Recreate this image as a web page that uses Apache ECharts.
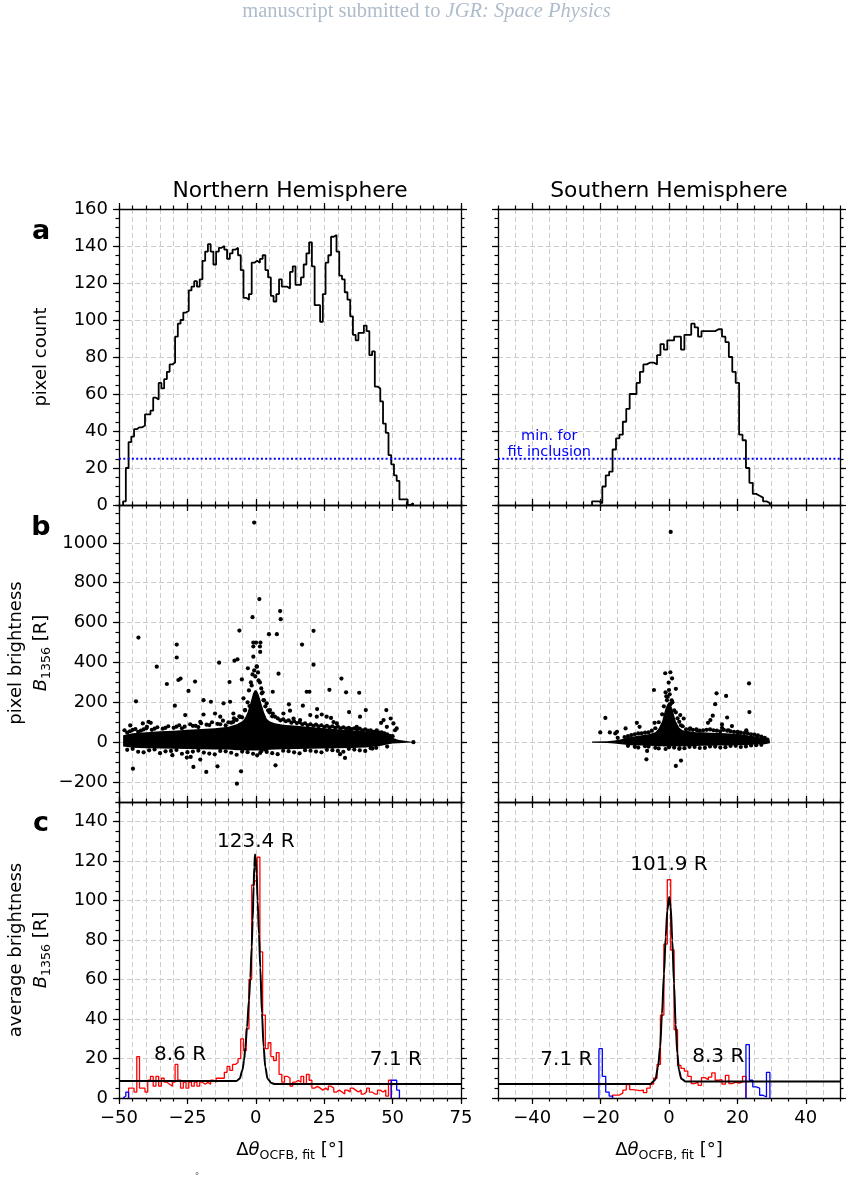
<!DOCTYPE html>
<html><head><meta charset="utf-8">
<script src="https://cdn.jsdelivr.net/npm/echarts@6/dist/echarts.min.js"></script>
<style>html,body{margin:0;padding:0;background:#fff;}#c{width:853px;height:1181px;}</style>
</head><body><div id="c"></div>
<script>
// ---------------- DATA ----------------
const thresholdCount = 25;

// panel a: pixel count histograms (bin centres, 1 deg wide)
const countN_bins = [-48,-47,-46,-45,-44,-43,-42,-41,-40,-39,-38,-37,-36,-35,-34,-33,-32,-31,-30,-29,-28,-27,-26,-25,-24,-23,-22,-21,-20,-19,-18,-17,-16,-15,-14,-13,-12,-11,-10,-9,-8,-7,-6,-5,-4,-3,-2,-1,0,1,2,3,4,5,6,7,8,9,10,11,12,13,14,15,16,17,18,19,20,21,22,23,24,25,26,27,28,29,30,31,32,33,34,35,36,37,38,39,40,41,42,43,44,45,46,47,48,49,50,51,52,53,54,55,56,57];
const countN = [2,20,34,37,41,42,42,43,49,49,51,58,57,66,63,68,72,76,77,91,98,100,104,105,116,118,121,118,122,132,137,141,137,130,137,139,140,138,133,136,138,139,135,127,112,111,114,131,132,131,133,135,127,123,113,110,114,122,118,118,117,126,129,119,119,123,130,136,142,129,108,108,99,114,131,135,145,146,137,124,122,115,111,102,92,89,93,93,97,94,81,83,64,63,56,44,39,27,22,16,13,3,3,3,0,1];
const countS_bins = [-22,-21,-20,-19,-18,-17,-16,-15,-14,-13,-12,-11,-10,-9,-8,-7,-6,-5,-4,-3,-2,-1,0,1,2,3,4,5,6,7,8,9,10,11,12,13,14,15,16,17,18,19,20,21,22,23,24,25,26,27,28,29];
const countS = [2,2,1,10,16,18,30,36,38,45,52,60,60,66,72,76,77,77,76,81,87,84,89,89,91,91,84,92,92,98,96,91,94,94,94,94,95,95,91,88,80,72,66,38,35,20,12,6,5,4,2,1];

// panel c: average brightness per bin (red = used in fit, blue = excluded)
const avgN_red_bins = [-46,-45,-44,-43,-42,-41,-40,-39,-38,-37,-36,-35,-34,-33,-32,-31,-30,-29,-28,-27,-26,-25,-24,-23,-22,-21,-20,-19,-18,-17,-16,-15,-14,-13,-12,-11,-10,-9,-8,-7,-6,-5,-4,-3,-2,-1,0,1,2,3,4,5,6,7,8,9,10,11,12,13,14,15,16,17,18,19,20,21,22,23,24,25,26,27,28,29,30,31,32,33,34,35,36,37,38,39,40,41,42,43,44,45,46,47,48,49];
const avgN_red = [5,5,3,21,5,5,3,9,11,6,11,6,10,8,7,6,8,17,9,5,8,5,8,6,8,6,8,7,8,7,9,8,10,10,10,13,16,14,17,18,20,30,24,35,60,108,110,122,74,42,25,28,21,19,23,12,8,11,10,6,8,9,8,11,7,12,9,5,6,5,4,5,4,6,5,3,4,3,2,4,3,5,4,3,4,2,3,5,3,2,2,4,3,4,1,9];
const avgN_blueL_bins = [-48,-47];
const avgN_blueL = [1,3];
const avgN_blueR_bins = [50,51,52];
const avgN_blueR = [9,9,4];

const avgS_red_bins = [-16,-15,-14,-13,-12,-11,-10,-9,-8,-7,-6,-5,-4,-3,-2,-1,0,1,2,3,4,5,6,7,8,9,10,11,12,13,14,15,16,17,18,19,20,21,22];
const avgS_red = [1.5,1.5,2.5,4,6.8,4.2,4,3.7,4,2.7,5,7,10,17,42,78,110.6,75,34.6,16.5,15,13.6,11,7.3,8,6.4,10.3,9.3,10.6,12.7,9,9.3,7,11.5,7.3,8,7.6,8,11];
const avgS_blueL_bins = [-20,-19,-18,-17];
const avgS_blueL = [25,11,3,1];
const avgS_blueR_bins = [23,24,25,26,27,28,29];
const avgS_blueR = [27,9,5.6,5,1.4,0.5,13];

// fitted curves, points
const fitN_x = [-50,-7.1,-5.9,-4.9,-4.3,-3.8,-3.2,-2.5,-2.0,-1.5,-1.15,-0.8,-0.55,-0.3,-0.05,0.3,0.67,1.16,1.64,2.25,2.86,3.47,4.3,5.7,6.9,75];
const fitN_y = [8.6,8.6,9.8,14,19,25.8,36,49.5,61,76.5,90,107,117,123.4,122,113.7,100,83,66,43,26,15.7,9.8,7.6,7.1,7.1];
const fitS_x = [-50,-5.5,-4.0,-3.2,-2.6,-2.05,-1.46,-0.97,-0.49,0.05,0.49,0.97,1.46,1.95,2.44,2.92,3.6,4.8,6,50];
const fitS_y = [7.1,7.1,9.3,15.7,25.8,42.7,63,81.6,95,101.9,96.8,80,58,37.3,22.5,14,9.8,8.4,8.3,8.3];
const fitLabelsN = ['123.4 R','8.6 R','7.1 R'];
const fitLabelsS = ['101.9 R','7.1 R','8.3 R'];

// panel b: dense core envelope of the pixel cloud
const bandN_x  = [-48.5,-45,-40,-35,-30,-25,-20,-15,-10,-7,-5,-4,-3,-2,-1.5,-1,-0.5,0,0.5,1,1.5,2,3,4,5,7,10,15,20,25,30,35,40,45,48,50,52,55,57.5];
const bandN_hi = [35,45,50,55,58,62,66,70,78,90,105,120,150,195,220,245,258,262,255,240,220,195,150,118,105,95,88,82,76,70,65,60,55,46,36,22,12,6,1];
const bandN_lo = [-22,-28,-30,-32,-33,-34,-35,-36,-37,-40,-40,-42,-42,-42,-42,-42,-42,-42,-42,-42,-42,-42,-42,-40,-38,-36,-35,-34,-33,-32,-30,-29,-27,-20,-12,-7,-5,-3,-1];
const bandS_x  = [-22.5,-18,-16,-14,-12,-10,-8,-6,-4,-3,-2,-1.5,-1,-0.5,0,0.5,1,1.5,2,3,4,6,8,10,12,15,18,20,22,24,26,28,29.5];
const bandS_hi = [3,5,8,15,24,30,35,40,50,70,105,140,170,190,200,190,165,135,105,72,60,55,50,50,48,46,44,42,38,32,26,18,8];
const bandS_lo = [-3,-4,-6,-10,-14,-16,-17,-18,-19,-20,-20,-22,-22,-22,-22,-22,-22,-22,-22,-20,-20,-20,-19,-18,-18,-17,-16,-15,-15,-13,-12,-10,-5];

// panel b: individual pixels outside the dense core
const pixN = [[-42.9,525],[-44.9,-133],[-43.8,205],[-45.9,84],[-36.2,379],[-32.5,292],[-28.9,490],[-28.9,425],[-28.3,312],[-27.5,319],[-29.6,183],[-30.5,-65],[-24.6,257],[-22.2,304],[-22.8,-124],[-25.2,-77],[-23.8,-74],[-20.3,-87],[-18.1,-149],[-19.1,211],[-16.4,203],[-19.1,139],[-14,-121],[-13.4,399],[-11.8,195],[-9.6,302],[-9.4,203],[-7.8,409],[-6.7,416],[-6,560],[-5.1,315],[-6.9,-208],[-5.4,-146],[-4.5,220],[-2.9,371],[-1.2,627],[-0.6,1102],[-0.9,500],[0.1,500],[1.3,718],[1.7,500],[1.5,480],[1.6,453],[-0.9,429],[-0.9,480],[0.4,379],[4.8,542],[7.7,542],[8.9,658],[9.1,617],[8.3,344],[6.2,253],[7.2,-116],[1.6,-54],[3.4,-37],[16.9,490],[21.1,559],[21.1,389],[18.6,253],[19.6,253],[26.9,263],[31.3,319],[33,250],[37.8,248],[34.1,151],[40.2,161],[47.7,161],[49.3,119],[30.8,-60],[32.6,-79],[42.6,-32],[27.5,122],[12.1,190],[17.2,183],[12.5,158],[22.4,166],[24.1,139],[28.4,101],[38.1,128],[44.2,60],[45.8,97],[50.3,94],[50.9,60],[51.5,69],[57.6,0],[-41.3,94],[-39.2,102],[-38.4,97],[-39.8,77],[-25.8,136],[-20.3,102],[-14.9,144],[-13,128],[-8.2,144],[-5.7,127],[-3.9,161],[-8.2,102],[-2.3,181],[2.2,245],[2.8,211],[4,195],[5.2,161],[6.2,144],[10.1,144],[13.8,119],[16.2,111],[19.9,136],[22.3,128],[25.9,128],[29.6,94],[34.5,60],[36.9,77],[40.6,44],[46.7,111],[47.9,77],
 [-48,60],[-46,55],[-44,66],[-42,58],[-40,70],[-38,62],[-36,75],[-34,68],[-32,80],[-30,72],[-28,85],[-26,78],[-24,90],[-22,82],[-20,95],[-18,88],[-16,100],[-14,92],[-12,108],[-10,100],[-8,120],[-6,130],[-4,160],[-3,200],[-2.5,260],[-1.8,300],[-1.2,340],[-0.6,360],[0.3,380],[0.8,350],[1.5,300],[2.5,250],[3.5,180],[5,150],[6,130],[8,120],[10,115],[12,110],[14,105],[16,100],[18,95],[20,90],[22,88],[24,85],[26,82],[28,80],[30,78],[32,75],[34,72],[36,70],[38,68],[40,65],[42,60],[44,55],[46,50],[48,40],[50,30],
 [-47,48],[-45,62],[-43,52],[-41,64],[-37,68],[-33,72],[-29,78],[-27,70],[-23,82],[-21,76],[-17,86],[-13,90],[-11,84],[-9,98],[-7,112],[-5,125],[-1.5,285],[-0.2,330],[1,310],[2,270],[3,210],[4.5,160],[7,128],[9,110],[11,105],[13,98],[15,96],[17,90],[19,85],[21,82],[23,80],[25,76],[27,74],[29,72],[31,70],[33,68],[35,66],[37,62],[39,60],[41,58],[43,52],[45,48],[47,44],[49,32],
 [-47,-38],[-43,-48],[-39,-41],[-35,-55],[-31,-44],[-27,-58],[-23,-47],[-19,-52],[-15,-61],[-11,-46],[-7,-63],[-3,-50],[0.5,-66],[4,-49],[8,-60],[12,-45],[16,-56],[20,-43],[24,-51],[28,-40],[32,-48],[36,-37],[40,-44],[44,-28],[48,-22],
 [-45,-33],[-41,-51],[-37,-36],[-33,-46],[-29,-39],[-25,-50],[-21,-42],[-17,-57],[-13,-44],[-9,-53],[-5,-47],[-1,-58],[2,-45],[6,-55],[10,-43],[14,-51],[18,-40],[22,-47],[26,-38],[30,-44],[34,-33],[38,-41],[42,-30]];
const pixS = [[0.5,1055],[-1.1,346],[0.4,351],[0.9,320],[-0.1,299],[2,268],[-4.4,262],[0,262],[-0.4,228],[-0.6,211],[0.4,191],[3.3,136],[4.3,119],[3,102],[-18.6,122],[-20.1,49],[-17.3,49],[-15.7,44],[-15.2,52],[-12.7,69],[-9.4,97],[-8.6,77],[-4.2,97],[-6.4,-44],[-6.6,-86],[3.5,-92],[2,-119],[3.1,-29],[13.9,245],[16.7,232],[13.5,191],[17,124],[12.8,133],[12.1,111],[11.4,97],[15.5,89],[17.4,60],[18.4,81],[20.1,52],[23.4,295],[23.5,151],[22.6,60],[25.7,22],[27.5,17],[28.8,13],[15.5,72],[8.2,60],[6.2,69],
 [-15,22],[-12,30],[-10,40],[-8,45],[-6,50],[-5,58],[-4,70],[-3,100],[-2,140],[-1.5,180],[-0.8,230],[0.8,210],[1.5,160],[2.5,120],[3.5,85],[5,65],[7,62],[9,58],[11,62],[13,60],[15,55],[17,58],[19,52],[21,48],[23,45],[25,38],[27,28],
 [-13,26],[-11,36],[-9,44],[-7,48],[-1,250],[0.2,240],[1,200],[2,150],[4,80],[6,66],[8,64],[10,60],[12,64],[14,58],[16,62],[18,55],[20,50],[22,46],[24,40],[26,34],[28,22],
 [-12,-18],[-9,-27],[-6,-22],[-3,-31],[0,-25],[3,-33],[6,-23],[9,-29],[12,-21],[15,-27],[18,-19],[21,-24],[24,-16],[27,-13],
 [-10,-23],[-7,-20],[-4,-28],[-1,-34],[1.5,-27],[4.5,-30],[7.5,-24],[10.5,-28],[13.5,-22],[16.5,-25],[19.5,-18],[22.5,-21],[25.5,-15]];

// axes
const xTicksN = [-50,-25,0,25,50,75];
const xTicksS = [-40,-20,0,20,40];
const yTicksA = [0,20,40,60,80,100,120,140,160];
const yTicksB = [-200,0,200,400,600,800,1000];
const yTicksC = [0,20,40,60,80,100,120,140];

// ---------------- CHART ----------------
const F = 'DejaVu Sans';
const chart = echarts.init(document.getElementById('c'), null, {renderer:'canvas'});
const G = [
  {left:119, top:209, width:342, height:296},
  {left:498, top:209, width:342, height:296},
  {left:119, top:505, width:342, height:297},
  {left:498, top:505, width:342, height:297},
  {left:119, top:802, width:342, height:296},
  {left:498, top:802, width:342, height:296}
];
const option = {animation:false, backgroundColor:'#fff', grid:G.map(g=>Object.assign({show:false}, g)), xAxis:[], yAxis:[], series:[], graphic:[]};
const fmt = v => v < 0 ? '\u2212' + Math.abs(v) : String(v);
const spine = {show:true, onZero:false, lineStyle:{color:'#000', width:1.3}};
const tick = len => ({show:true, inside:false, length:len, lineStyle:{color:'#000', width:1.2}});
const gridLine = {show:true, lineStyle:{type:[5,3], color:'#cccccc', width:1}};
function base(gi, r){ return {type:'value', gridIndex:gi, min:r.min, max:r.max, axisLine:{show:false, onZero:false}, axisTick:{show:false}, axisLabel:{show:false}, splitLine:{show:false}}; }
const mainIdx = [];
function addAxes(gi, xr, yr, showX, showY){
  const xi = option.xAxis.length, yi = option.yAxis.length;
  const lab = (show) => ({show:show, formatter:fmt, fontSize:18, fontFamily:F, color:'#000', margin:11});
  option.xAxis.push(Object.assign(base(gi,xr), {position:'bottom', axisLine:spine, axisTick:Object.assign(tick(6),{customValues:xr.major}), axisLabel:Object.assign(lab(showX),{customValues:xr.major})}));
  option.xAxis.push(Object.assign(base(gi,xr), {position:'bottom', interval:xr.minor, axisTick:tick(3.5), splitLine:gridLine}));
  option.xAxis.push(Object.assign(base(gi,xr), {position:'top', axisLine:spine, axisTick:Object.assign(tick(6),{customValues:xr.major})}));
  option.xAxis.push(Object.assign(base(gi,xr), {position:'top', interval:xr.minor, axisTick:tick(3.5)}));
  option.yAxis.push(Object.assign(base(gi,yr), {position:'left', axisLine:spine, axisTick:Object.assign(tick(6),{customValues:yr.major}), axisLabel:Object.assign(lab(showY),{customValues:yr.major}), splitLine:gridLine}));
  option.yAxis.push(Object.assign(base(gi,yr), {position:'left', interval:yr.minor, axisTick:tick(3.5)}));
  option.yAxis.push(Object.assign(base(gi,yr), {position:'right', axisLine:spine, axisTick:Object.assign(tick(6),{customValues:yr.major})}));
  option.yAxis.push(Object.assign(base(gi,yr), {position:'right', interval:yr.minor, axisTick:tick(3.5)}));
  mainIdx[gi] = {x:xi, y:yi};
}
const XN = {min:-50, max:75, major:xTicksN, minor:5};
const XS = {min:-50, max:50, major:xTicksS, minor:5};
const YA = {min:0, max:160, major:yTicksA, minor:5};
const YB = {min:-300, max:1190, major:yTicksB, minor:50};
const YC = {min:0, max:150, major:yTicksC, minor:5};
addAxes(0, XN, YA, false, true);
addAxes(1, XS, YA, false, false);
addAxes(2, XN, YB, false, true);
addAxes(3, XS, YB, false, false);
addAxes(4, XN, YC, true, true);
addAxes(5, XS, YC, true, false);

function stepPts(bins, vals){
  const p = [[bins[0]-0.5, 0]];
  for (let i=0;i<bins.length;i++){ p.push([bins[i]-0.5, vals[i]]); p.push([bins[i]+0.5, vals[i]]); }
  p.push([bins[bins.length-1]+0.5, 0]);
  return p;
}
function lineS(gi, data, color, width, extra){
  return Object.assign({type:'line', xAxisIndex:mainIdx[gi].x, yAxisIndex:mainIdx[gi].y, data:data, symbol:'none', showSymbol:false, silent:true, z:3,
    lineStyle:{color:color, width:width}}, extra||{});
}
function labelS(gi, pts, texts, size, color, extra){
  return {type:'scatter', xAxisIndex:mainIdx[gi].x, yAxisIndex:mainIdx[gi].y, silent:true, z:6, symbolSize:1, itemStyle:{color:'rgba(0,0,0,0)'},
    data: pts.map((p,i)=>({value:p, label:Object.assign({show:true, position:'inside', formatter:texts[i], fontSize:size, fontFamily:F, color:color, opacity:1}, extra||{})}))};
}
function bandS(gi, bx, hi, lo){
  return {type:'custom', xAxisIndex:mainIdx[gi].x, yAxisIndex:mainIdx[gi].y, silent:true, z:3, data:[0],
    renderItem:(params, api)=>{
      const pts=[];
      for (let i=0;i<bx.length;i++) pts.push(api.coord([bx[i], hi[i]]));
      for (let i=bx.length-1;i>=0;i--) pts.push(api.coord([bx[i], lo[i]]));
      return {type:'polygon', shape:{points:pts}, style:{fill:'#000'}};
    }};
}
function scatS(gi, pts){
  return {type:'scatter', xAxisIndex:mainIdx[gi].x, yAxisIndex:mainIdx[gi].y, silent:true, z:4, data:pts, symbol:'circle', symbolSize:4.2, itemStyle:{color:'#000', opacity:1}};
}
const zip = (a,b) => a.map((v,i)=>[v,b[i]]);

// panel a
option.series.push(lineS(0, stepPts(countN_bins, countN), '#000', 1.8));
option.series.push(lineS(1, stepPts(countS_bins, countS), '#000', 1.8));
const dotted = {lineStyle:{color:'#0000ff', width:2, type:[2,2.3]}};
option.series.push(lineS(0, [[XN.min,thresholdCount],[XN.max,thresholdCount]], '#0000ff', 2, dotted));
option.series.push(lineS(1, [[XS.min,thresholdCount],[XS.max,thresholdCount]], '#0000ff', 2, dotted));
option.series.push(labelS(1, [[-35,33]], ['min. for\nfit inclusion'], 14.5, '#0000ff', {lineHeight:16, align:'center'}));

// panel b
option.series.push(bandS(2, bandN_x, bandN_hi, bandN_lo));
option.series.push(scatS(2, pixN));
option.series.push(bandS(3, bandS_x, bandS_hi, bandS_lo));
option.series.push(scatS(3, pixS));

// panel c
option.series.push(lineS(4, stepPts(avgN_red_bins, avgN_red), '#ff0000', 1.3));
option.series.push(lineS(4, stepPts(avgN_blueL_bins, avgN_blueL), '#0000ff', 1.3));
option.series.push(lineS(4, stepPts(avgN_blueR_bins, avgN_blueR), '#0000ff', 1.3));
option.series.push(lineS(4, zip(fitN_x, fitN_y), '#000', 2, {smooth:0.3, smoothMonotone:'x', z:5}));
option.series.push(lineS(5, stepPts(avgS_red_bins, avgS_red), '#ff0000', 1.3));
option.series.push(lineS(5, stepPts(avgS_blueL_bins, avgS_blueL), '#0000ff', 1.3));
option.series.push(lineS(5, stepPts(avgS_blueR_bins, avgS_blueR), '#0000ff', 1.3));
option.series.push(lineS(5, zip(fitS_x, fitS_y), '#000', 2, {smooth:0.3, smoothMonotone:'x', z:5}));
option.series.push(labelS(4, [[0,129.7],[-27.7,22.1],[51.2,19.6]], fitLabelsN, 20, '#000'));
option.series.push(labelS(5, [[0,118.4],[-30,19.6],[14.4,21.1]], fitLabelsS, 20, '#000'));

// texts
function T(x, y, text, style, rot){
  return {type:'text', x:x, y:y, rotation:rot||0, silent:true, z:100,
    style:Object.assign({text:text, fill:'#000', fontFamily:F, fontSize:18, align:'center', verticalAlign:'middle', textAlign:'center', textVerticalAlign:'middle'}, style||{})};
}
const richBase = {
  n:{fontFamily:F, fontSize:18, fill:'#000', color:'#000'},
  i:{fontFamily:F, fontSize:18, fontStyle:'italic', fill:'#000', color:'#000'},
  s:{fontFamily:F, fontSize:12.6, fill:'#000', color:'#000', padding:[12,0,0,0]}
};
const hdr = '#aebccb';
option.graphic.push(T(426.5, 12, '{n|manuscript submitted to }{i|JGR: Space Physics}', {rich:{
  n:{fontFamily:'Liberation Serif', fontSize:20.5, fill:hdr, color:hdr},
  i:{fontFamily:'Liberation Serif', fontSize:20.5, fontStyle:'italic', fill:hdr, color:hdr}}}));
option.graphic.push(T(290, 191.5, 'Northern Hemisphere', {fontSize:21.8}));
option.graphic.push(T(669, 191.5, 'Southern Hemisphere', {fontSize:21.8}));
option.graphic.push(T(41, 231.5, 'a', {fontSize:27, fontWeight:'bold'}));
option.graphic.push(T(41, 527.5, 'b', {fontSize:27, fontWeight:'bold'}));
option.graphic.push(T(41, 824, 'c', {fontSize:27, fontWeight:'bold'}));
option.graphic.push(T(41, 357, 'pixel count', {}, Math.PI/2));
option.graphic.push(T(16, 653, 'pixel brightness', {}, Math.PI/2));
option.graphic.push(T(41, 653, '{i|B}{s|1356}{n| [R]}', {rich:richBase}, Math.PI/2));
option.graphic.push(T(16, 950, 'average brightness', {}, Math.PI/2));
option.graphic.push(T(41, 950, '{i|B}{s|1356}{n| [R]}', {rich:richBase}, Math.PI/2));
option.graphic.push(T(290, 1150, '{n|\u0394}{i|\u03b8}{s|OCFB, fit}{n| [\u00b0]}', {rich:richBase}));
option.graphic.push(T(669, 1150, '{n|\u0394}{i|\u03b8}{s|OCFB, fit}{n| [\u00b0]}', {rich:richBase}));
option.graphic.push(T(197, 1177, '\u00b0', {fontSize:9, fill:'#555'}));

chart.setOption(option);
</script>
</body></html>
